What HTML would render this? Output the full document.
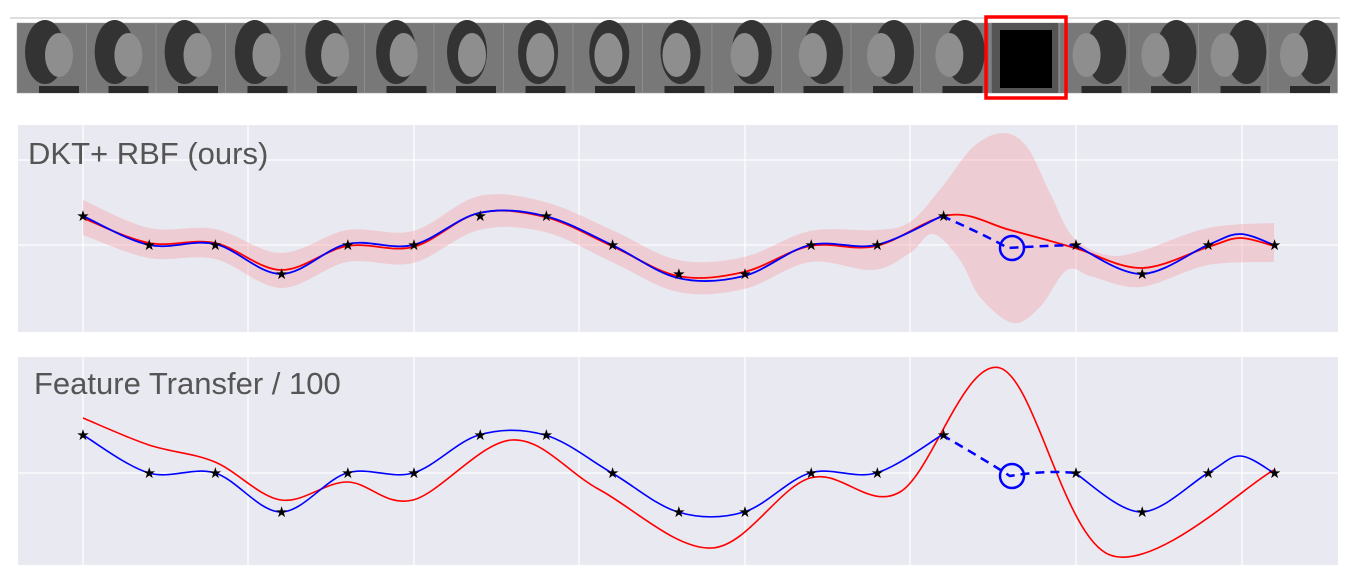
<!DOCTYPE html>
<html><head><meta charset="utf-8"><style>
html,body{margin:0;padding:0;background:#fff;width:1352px;height:580px;overflow:hidden;font-family:"Liberation Sans",sans-serif}
</style></head><body>
<svg id="s" width="1352" height="580" xmlns="http://www.w3.org/2000/svg">
<line x1="10" y1="18" x2="1340" y2="18" stroke="#bbb" stroke-width="1"/>
<g id="tiles"></g>
<rect x="986" y="17" width="80" height="81" fill="none" stroke="#f00" stroke-width="3.5"/>
<rect x="18" y="125" width="1320" height="207" fill="#e9e9f1"/>
<rect x="18" y="357" width="1320" height="208" fill="#e9e9f1"/>
<g id="grid" stroke="#fff" stroke-width="1.3"></g>
<text x="28" y="164" font-size="31" fill="#555">DKT+ RBF (ours)</text>
<text x="34" y="394" font-size="31" fill="#555">Feature Transfer / 100</text>
<g id="plots"></g>
</svg>
<script>
var NS="http://www.w3.org/2000/svg";
function el(p,t,a){var e=document.createElementNS(NS,t);for(var k in a)e.setAttribute(k,a[k]);p.appendChild(e);return e;}
var tiles=document.getElementById('tiles');
for(var i=0;i<19;i++){var x=17+i*69.5;
 el(tiles,'rect',{x:x,y:23,width:69.5,height:70,fill:'#787878',stroke:'#999','stroke-width':0.5});
 if(i==14){el(tiles,'rect',{x:x+2,y:23,width:66,height:70,fill:'#555'});el(tiles,'rect',{x:x+10,y:30,width:52,height:58,fill:'#000'});continue;}
 var f=Math.sin((i-9)/9*Math.PI/2);
 el(tiles,'ellipse',{cx:x+38+f*10,cy:52,rx:20,ry:32,fill:'#333'});
 el(tiles,'ellipse',{cx:x+34-f*8,cy:55,rx:14,ry:22,fill:'#8e8e8e'});
 el(tiles,'rect',{x:x+22,y:86,width:40,height:7,fill:'#2a2a2a'});
}
var g=document.getElementById('grid');
var vx=[83,248,414,579,745,910,1076,1242];
vx.forEach(function(x){el(g,'line',{x1:x,y1:125,x2:x,y2:332});el(g,'line',{x1:x,y1:357,x2:x,y2:565});});
[160,245].forEach(function(y){el(g,'line',{x1:18,y1:y,x2:1338,y2:y});});
[473].forEach(function(y){el(g,'line',{x1:18,y1:y,x2:1338,y2:y});});
function cr(pts){var d='M'+pts[0][0]+','+pts[0][1];
 for(var i=0;i<pts.length-1;i++){var p0=pts[Math.max(i-1,0)],p1=pts[i],p2=pts[i+1],p3=pts[Math.min(i+2,pts.length-1)];
 d+=' C'+(p1[0]+(p2[0]-p0[0])/6)+','+(p1[1]+(p2[1]-p0[1])/6)+' '+(p2[0]-(p3[0]-p1[0])/6)+','+(p2[1]-(p3[1]-p1[1])/6)+' '+p2[0]+','+p2[1];}
 return d;}
var P=document.getElementById('plots');
var xs=[];for(var i=0;i<19;i++)xs.push(83+i*66.2);
var lv1=[216,245,245,274,245,245,216,216,245,274,274,245,245,216,248,245,274,245,245];
var mean1=[[83,218],[149,243],[215,243],[281,270],[347,246],[413,247],[479,213],[545,217],[612,246],[678,276],[744,272],[810,246],[876,246],[950,215],[1010,230],[1075,248],[1141,268],[1208,247],[1240,238],[1274,246]];
var up=[[83,200],[149,228],[215,229],[281,253],[347,230],[413,231],[479,196],[545,202],[612,230],[678,260],[744,257],[810,231],[876,230],[910,222],[942,187],[973,147],[1003,133],[1027,147],[1050,193],[1073,237],[1107,255],[1141,251],[1208,228],[1274,223]];
var dn=[[1274,262],[1208,265],[1141,287],[1093,277],[1067,270],[1040,307],[1013,323],[980,297],[960,260],[933,234],[910,253],[873,270],[810,262],[744,289],[678,292],[612,262],[545,232],[479,230],[413,263],[347,262],[281,288],[215,259],[149,258],[83,235]];
el(P,'path',{d:cr(up)+' L'+cr(dn).slice(1)+' Z',fill:'#f4a9b0','fill-opacity':0.45,stroke:'none'});
el(P,'path',{d:cr(mean1),fill:'none',stroke:'#f00','stroke-width':1.8});
el(P,'path',{d:cr([[83,216],[149,245],[215,244],[281,274],[347,244],[413,245],[479,213],[545,216],[612,245],[678,278],[744,276],[810,245],[876,245],[942,216]]),fill:'none',stroke:'#00f','stroke-width':1.8});
el(P,'path',{d:'M942,216 Q985,235 1008,248 Q1040,246 1075,245',fill:'none',stroke:'#00f','stroke-width':2.5,'stroke-dasharray':'9,6'});
el(P,'path',{d:cr([[1075,245],[1141,274],[1208,245],[1240,234],[1274,245]]),fill:'none',stroke:'#00f','stroke-width':1.8});
el(P,'circle',{cx:1012,cy:248,r:12,fill:'none',stroke:'#00f','stroke-width':2.5});
var lv2=[435,473,473,512,473,473,435,435,473,512,512,473,473,435,0,473,512,473,473];
el(P,'path',{d:cr([[83,418],[149,445],[215,462],[281,500],[347,482],[413,500],[512,440],[600,490],[712,548],[810,478],[900,492],[1000,368],[1110,555],[1274,470]]),fill:'none',stroke:'#f00','stroke-width':1.6});
el(P,'path',{d:cr([[83,435],[149,473],[215,473],[281,512],[347,473],[413,473],[479,435],[545,435],[612,473],[678,512],[744,512],[810,473],[876,473],[942,435]]),fill:'none',stroke:'#00f','stroke-width':1.6});
el(P,'path',{d:'M942,435 Q985,460 1010,476 Q1045,470 1075,473',fill:'none',stroke:'#00f','stroke-width':2.5,'stroke-dasharray':'9,6'});
el(P,'path',{d:cr([[1075,473],[1141,512],[1208,473],[1240,456],[1274,473]]),fill:'none',stroke:'#00f','stroke-width':1.6});
el(P,'circle',{cx:1012,cy:476,r:12,fill:'none',stroke:'#00f','stroke-width':2.5});
function star(x,y){el(P,'text',{x:x,y:y+5,'font-size':15,'text-anchor':'middle',fill:'#000'}).textContent='★';}
for(var i=0;i<19;i++){if(i==14)continue;star(xs[i],lv1[i]);star(xs[i],lv2[i]);}
</script>
</body></html>
